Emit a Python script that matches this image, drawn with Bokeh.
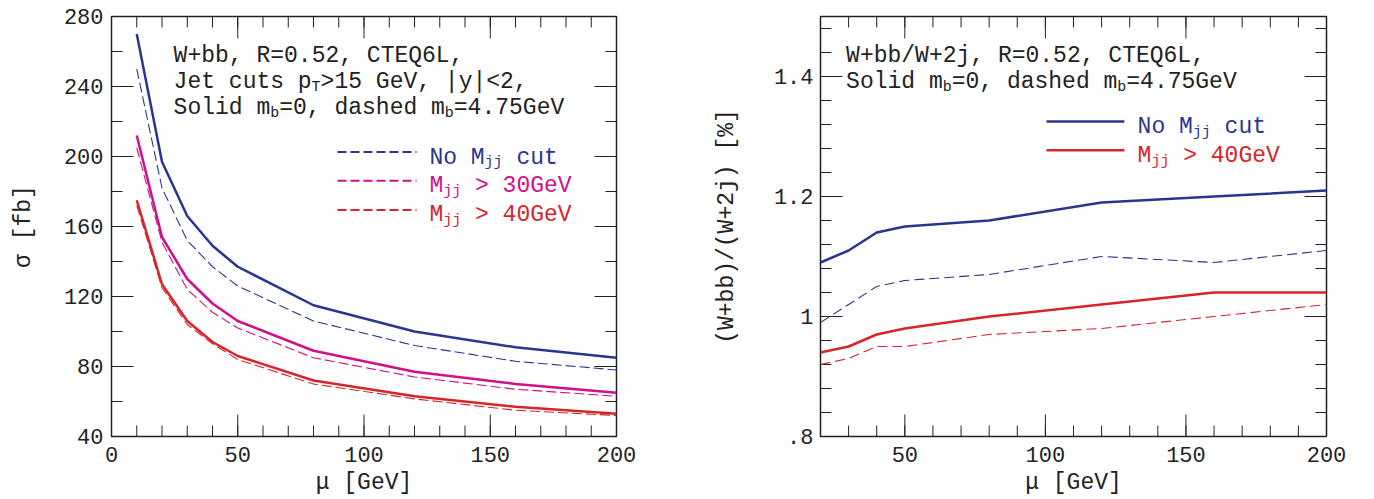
from bokeh.plotting import figure
from bokeh.models import FixedTicker, Range1d, Label, Arrow
from bokeh.layouts import row
from bokeh.embed import file_html
from bokeh.resources import INLINE

# ---------------- data ----------------
mu_left = [10, 20, 30, 40, 50, 80, 120, 160, 200]
sig_nocut_m0 = [270, 197, 166, 149, 137, 115, 100, 91, 85]
sig_nocut_mb = [250, 182, 152, 137, 126, 106, 92, 83, 78]
sig_m30_m0 = [212, 154, 130, 116, 106, 89, 77, 70, 65]
sig_m30_mb = [205, 151, 124, 111, 102, 85, 74, 67, 63]
sig_m40_m0 = [175, 127, 106, 94, 86, 72, 63, 57, 53]
sig_m40_mb = [172, 125, 104, 93, 84, 70, 61.5, 55, 52]

mu_right = [20, 30, 40, 50, 80, 120, 160, 200]
rat_nocut_m0 = [1.09, 1.11, 1.14, 1.15, 1.16, 1.19, 1.20, 1.21]
rat_nocut_mb = [0.99, 1.02, 1.05, 1.06, 1.07, 1.10, 1.09, 1.11]
rat_m40_m0 = [0.94, 0.95, 0.97, 0.98, 1.00, 1.02, 1.04, 1.04]
rat_m40_mb = [0.92, 0.93, 0.95, 0.95, 0.97, 0.98, 1.00, 1.02]

left_xticks = [0, 50, 100, 150, 200]
left_xminor = [0, 10, 20, 30, 40, 50, 60, 70, 80, 90, 100, 110, 120, 130, 140, 150, 160, 170, 180, 190, 200]
left_yticks = [40, 80, 120, 160, 200, 240, 280]
left_yminor = [40, 60, 80, 100, 120, 140, 160, 180, 200, 220, 240, 260, 280]
right_xticks = [50, 100, 150, 200]
right_xminor = [20, 30, 40, 50, 60, 70, 80, 90, 100, 110, 120, 130, 140, 150, 160, 170, 180, 190, 200]
right_yticks = [0.8, 1.0, 1.2, 1.4]
right_ytick_labels = [".8", "1", "1.2", "1.4"]
right_yminor = [0.8, 0.84, 0.88, 0.92, 0.96, 1.0, 1.04, 1.08, 1.12, 1.16, 1.2, 1.24, 1.28, 1.32, 1.36, 1.4, 1.44, 1.48]

# ---------------- style ----------------
FONT = "Liberation Mono"
INK = "#222222"
BLUE = "#2b3590"
MAG = "#d0108a"
RED = "#d6262b"
FS = 23
SUB = 15
TICK_FS = 22
FRAME_H = 421


def style_axis(ax):
    ax.axis_line_color = None
    ax.major_tick_in = 0
    ax.major_tick_out = 0
    ax.minor_tick_in = 0
    ax.minor_tick_out = 0
    ax.major_tick_line_color = None
    ax.minor_tick_line_color = None
    ax.major_label_text_font = FONT
    ax.major_label_text_color = INK
    ax.major_label_text_font_size = f"{TICK_FS}px"
    ax.axis_label_text_font = FONT
    ax.axis_label_text_font_size = f"{FS}px"
    ax.axis_label_text_font_style = "normal"
    ax.axis_label_text_color = INK


def make_fig(width, xr, yr, left_border, right_border, xt, xm, yt, ym):
    p = figure(width=width, height=498, x_range=Range1d(*xr), y_range=Range1d(*yr),
               output_backend="svg", toolbar_location=None,
               min_border_left=left_border, min_border_right=right_border,
               min_border_top=16, min_border_bottom=61)
    p.outline_line_color = INK
    p.outline_line_width = 1.5
    p.grid.visible = False
    p.background_fill_color = "white"
    p.border_fill_color = "white"
    bx = p.below[0]
    ly = p.left[0]
    bx.ticker = FixedTicker(ticks=xt, minor_ticks=xm)
    ly.ticker = FixedTicker(ticks=yt, minor_ticks=ym)
    style_axis(bx)
    style_axis(ly)
    bx.major_label_standoff = 10
    bx.axis_label_standoff = 5
    ly.major_label_standoff = 8

    # inward ticks on all four sides, placed through the figure's own data scales
    fw = width - left_border - right_border
    ux = (xr[1] - xr[0]) / fw
    uy = (yr[1] - yr[0]) / FRAME_H
    x0s, y0s, x1s, y1s = [], [], [], []
    for ticks, ln in ((xm, 11), (xt, 22)):
        for t in ticks:
            x0s += [t, t]
            x1s += [t, t]
            y0s += [yr[0], yr[1]]
            y1s += [yr[0] + ln * uy, yr[1] - ln * uy]
    for ticks, ln in ((ym, 11), (yt, 22)):
        for t in ticks:
            y0s += [t, t]
            y1s += [t, t]
            x0s += [xr[0], xr[1]]
            x1s += [xr[0] + ln * ux, xr[1] - ln * ux]
    p.segment(x0s, y0s, x1s, y1s, line_color=INK, line_width=1)
    return p, bx, ly


def rich(p, x, y, parts, color, dy=0):
    off = 0.0
    for txt, is_sub in parts:
        fs = SUB if is_sub else FS
        lead = len(txt) - len(txt.lstrip(" "))
        off += lead * 0.6 * fs
        t = txt.strip(" ")
        p.add_layout(Label(x=x, y=y, x_offset=off, y_offset=dy - (5 if is_sub else 0),
                           text=t, text_font=FONT, text_font_size=f"{fs}px",
                           text_color=color, text_baseline="alphabetic"))
        off += (len(txt) - lead) * 0.6 * fs


def key(p, x0, x1, y, color, width, dash):
    p.add_layout(Arrow(end=None, x_start=x0, y_start=y, x_end=x1, y_end=y,
                       line_color=color, line_width=width, line_dash=dash))


# ---------------- left panel ----------------
p1, bx1, ly1 = make_fig(690, (0, 200), (40, 280), 111, 74,
                        left_xticks, left_xminor, left_yticks, left_yminor)
bx1.axis_label = "μ [GeV]"
ly1.axis_label = "σ [fb]"
ly1.axis_label_standoff = 24

p1.line(mu_left, sig_nocut_m0, line_color=BLUE, line_width=2.5)
p1.line(mu_left, sig_nocut_mb, line_color=BLUE, line_width=1.1, line_dash="10 4")
p1.line(mu_left, sig_m30_m0, line_color=MAG, line_width=2.5)
p1.line(mu_left, sig_m30_mb, line_color=MAG, line_width=1.1, line_dash="10 4")
p1.line(mu_left, sig_m40_m0, line_color=RED, line_width=2.5)
p1.line(mu_left, sig_m40_mb, line_color=RED, line_width=1.1, line_dash="10 4")

rich(p1, 24.6, 257.4, [("W+bb, R=0.52, CTEQ6L,", False)], INK)
rich(p1, 24.6, 257.4, [("Jet cuts p", False), ("T", True), (">15 GeV, |y|<2,", False)], INK, dy=-26)
rich(p1, 24.6, 257.4, [("Solid m", False), ("b", True), ("=0, dashed m", False), ("b", True), ("=4.75GeV", False)], INK, dy=-52)

key(p1, 89.5, 120.8, 202.6, BLUE, 2, "9 4")
key(p1, 89.5, 120.8, 186.1, MAG, 2, "9 4")
key(p1, 89.5, 120.8, 169.4, RED, 2, "9 4")
rich(p1, 125.9, 199.4, [("No M", False), ("jj", True), (" cut", False)], BLUE)
rich(p1, 125.9, 182.9, [("M", False), ("jj", True), (" > 30GeV", False)], MAG)
rich(p1, 125.9, 166.4, [("M", False), ("jj", True), (" > 40GeV", False)], RED)

# ---------------- right panel ----------------
p2, bx2, ly2 = make_fig(668, (20, 200), (0.8, 1.5), 130, 32,
                        right_xticks, right_xminor, right_yticks, right_yminor)
bx2.axis_label = "μ [GeV]"
ly2.axis_label = "(W+bb)/(W+2j) [%]"
ly2.axis_label_standoff = 31
ly2.major_label_standoff = 7
ly2.major_label_overrides = dict(zip(right_yticks, right_ytick_labels))

p2.line(mu_right, rat_nocut_m0, line_color=BLUE, line_width=2.5)
p2.line(mu_right, rat_nocut_mb, line_color=BLUE, line_width=1.1, line_dash="10 5")
p2.line(mu_right, rat_m40_m0, line_color=RED, line_width=2.5)
p2.line(mu_right, rat_m40_mb, line_color=RED, line_width=1.1, line_dash="10 5")

rich(p2, 29.1, 1.434, [("W+bb/W+2j, R=0.52, CTEQ6L,", False)], INK)
rich(p2, 29.1, 1.434, [("Solid m", False), ("b", True), ("=0, dashed m", False), ("b", True), ("=4.75GeV", False)], INK, dy=-26)

key(p2, 100.4, 128.1, 1.325, BLUE, 2.5, "solid")
key(p2, 100.4, 128.1, 1.277, RED, 2.5, "solid")
rich(p2, 132.8, 1.3154, [("No M", False), ("jj", True), (" cut", False)], BLUE)
rich(p2, 132.8, 1.2672, [("M", False), ("jj", True), (" > 40GeV", False)], RED)

layout = row(p1, p2)
open("out.html", "w").write(file_html(layout, INLINE))
